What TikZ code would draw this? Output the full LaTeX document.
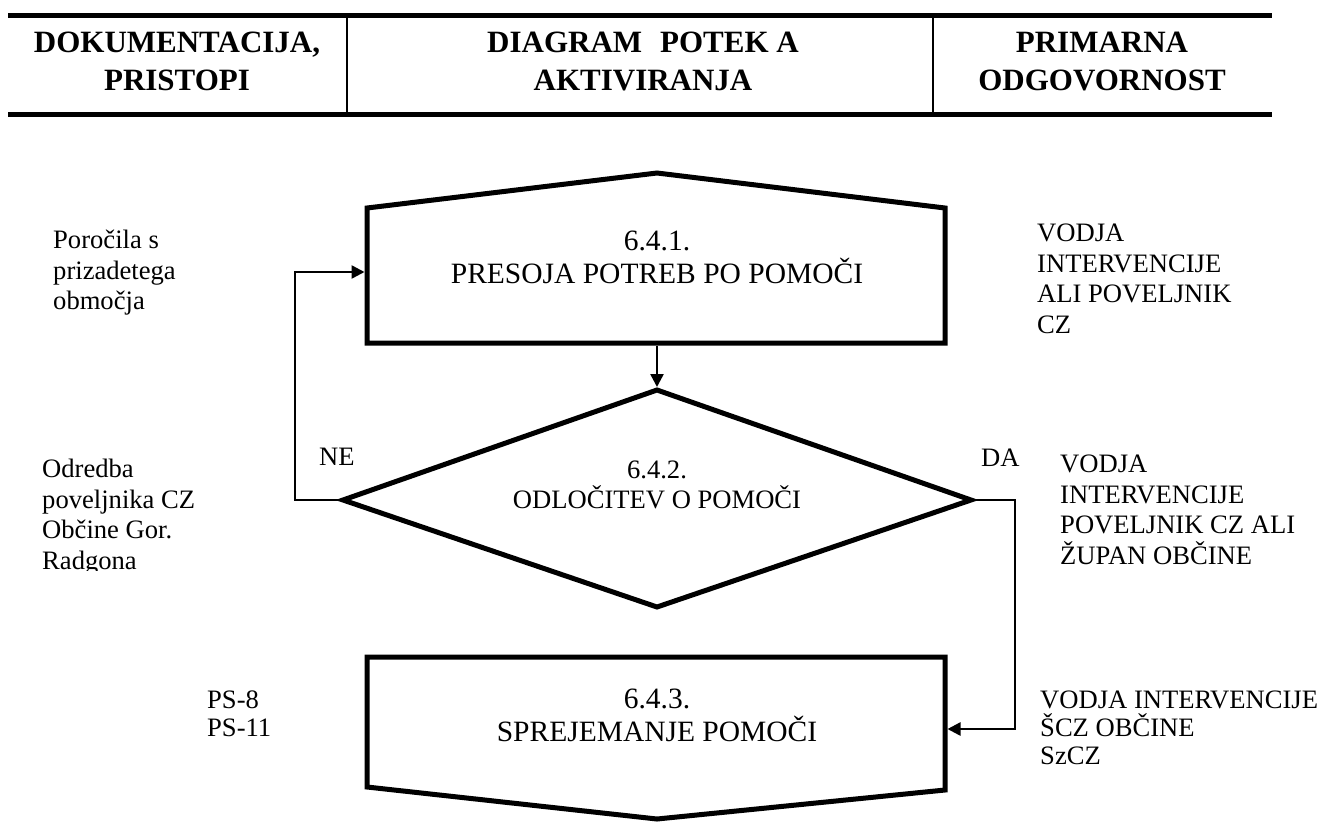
\documentclass[tikz,border=0pt]{standalone}
\usepackage{fontspec}
\setmainfont{Liberation Serif}
\usetikzlibrary{arrows.meta}
\begin{document}
\begin{tikzpicture}[x=1pt,y=-1pt,
  shapeline/.style={line width=5pt, line join=miter},
  rule/.style={line width=5pt},
  sep/.style={line width=2pt},
  conn/.style={line width=2.5pt},
  arr/.style={conn, -{Triangle[length=13pt,width=13pt]}},
  hdr/.style={font=\bfseries\fontsize{31}{38}\selectfont, align=center, inner sep=0pt},
  boxtext/.style={font=\fontsize{29.5}{33}\selectfont, align=center, inner sep=0pt},
  dtext/.style={font=\fontsize{26.6}{30}\selectfont, align=center, inner sep=0pt},
  side/.style={font=\fontsize{26.6}{30.5}\selectfont, align=left, inner sep=0pt, anchor=north west},
  lbl/.style={font=\fontsize{26.6}{30}\selectfont, inner sep=0pt, anchor=west}]
\useasboundingbox (0,0) rectangle (1320,823);
% header
\draw[rule] (8,15) -- (1272,15);
\draw[rule] (8,114) -- (1272,114);
\draw[sep] (347,15) -- (347,114);
\draw[sep] (933,15) -- (933,114);
\node[hdr] (h1) at (177,61) {DOKUMENTACIJA,\\PRISTOPI};
\node[hdr] (h2) at (643,61) {DIAGRAM\hspace{18pt}POTEK A\\AKTIVIRANJA};
\node[hdr] (h3) at (1102,61) {PRIMARNA\\ODGOVORNOST};
% shapes
\draw[shapeline] (367,343) -- (367,208) -- (657,173) -- (945,208) -- (945,343) -- cycle;
\draw[shapeline] (657,390) -- (971,500) -- (657,607) -- (343,500) -- cycle;
\draw[shapeline] (367,657) -- (945,657) -- (945,790) -- (657,819) -- (367,787) -- cycle;
\coordinate (b1bot) at (657,345.5);
\coordinate (b1left) at (364.5,272);
\coordinate (dtop) at (657,387);
\coordinate (dleft) at (340,500);
\coordinate (dright) at (974,500);
\coordinate (loopc) at (295,500);
\coordinate (rc) at (1015,500);
\coordinate (b3right) at (947.5,729);
% connectors
\draw[arr] (b1bot) -- (dtop);
\draw[arr] (dleft) -- (loopc) |- (b1left);
\draw[arr] (dright) -- (rc) |- (b3right);
% box texts
\node[boxtext] (t1) at (657,257) {6.4.1.\\PRESOJA POTREB PO POMOČI};
\node[dtext] (t2) at (657,485) {6.4.2.\\ODLOČITEV O POMOČI};
\node[boxtext] (t3) at (657,715) {6.4.3.\\SPREJEMANJE POMOČI};
% side texts
\node[side] (s1) at (53,230) {Poročila s\\prizadetega\\območja};
\begin{scope}
\clip (0,0) rectangle (340,570);
\node[side] (s2) at (42,459) {Odredba\\poveljnika CZ\\Občine Gor.\\Radgona};
\end{scope}
\node[side] (s3) at (1037,224) {VODJA\\INTERVENCIJE\\ALI POVELJNIK\\CZ};
\node[side] (s4) at (1060,455) {VODJA\\INTERVENCIJE\\POVELJNIK CZ ALI\\ŽUPAN OBČINE};
\node[side, font=\fontsize{26.6}{28}\selectfont] (s5) at (1040,691) {VODJA INTERVENCIJE\\ŠCZ OBČINE\\SzCZ};
\node[side, font=\fontsize{26.6}{28}\selectfont] (s6) at (207,691) {PS-8\\PS-11};
\node[lbl] (ne) at (319,457) {NE};
\node[lbl] (da) at (981,458) {DA};
\end{tikzpicture}
\end{document}
